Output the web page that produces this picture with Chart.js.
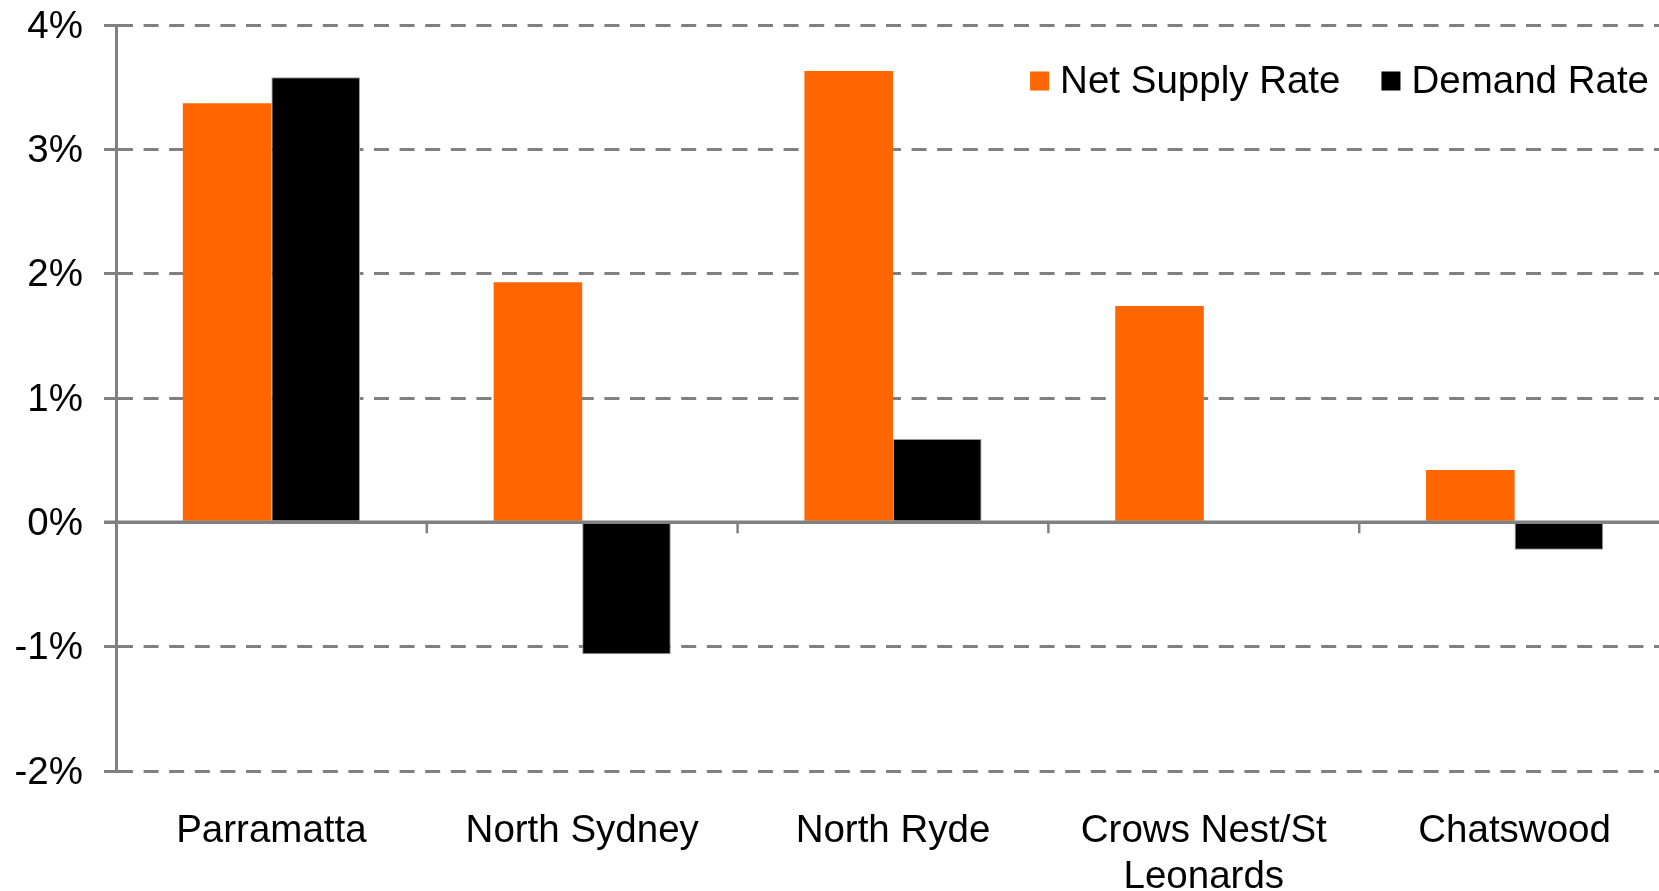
<!DOCTYPE html>
<html><head><meta charset="utf-8">
<script src="https://cdn.jsdelivr.net/npm/chart.js@4.4.0/dist/chart.umd.min.js"></script>
<style>
html,body{margin:0;padding:0;overflow:hidden;background:#fff;width:1659px;height:891px}
#wrap{position:absolute;left:0;top:0;width:1670px;height:891px}
</style>
</head><body><div id="wrap"><canvas id="c" width="1670" height="891"></canvas></div>
<script>
const categories = [['Parramatta'], ['North Sydney'], ['North Ryde'], ['Crows Nest/St', 'Leonards'], ['Chatswood']];
const seriesNames = ['Net Supply Rate', 'Demand Rate'];
const netSupplyRate = [3.37, 1.93, 3.63, 1.74, 0.42];
const demandRate = [3.58, -1.06, 0.67, 0, -0.22];
const yTickValues = [-2, -1, 0, 1, 2, 3, 4];
const yTickLabels = ['-2%', '-1%', '0%', '1%', '2%', '3%', '4%'];

const FONT = '"Liberation Sans", Arial, Helvetica, sans-serif';
const FSIZE = 38.5;
const GRAY = '#808080';
Chart.defaults.font.family = FONT;

const zeroLinePlugin = {
  id: 'zeroLine',
  afterDatasetsDraw(chart) {
    const {ctx, chartArea: ca, scales: {x, y}} = chart;
    const y0 = y.getPixelForValue(0);
    ctx.save();
    ctx.strokeStyle = GRAY;
    ctx.lineWidth = 3.5;
    ctx.beginPath();
    ctx.moveTo(ca.left - 12, y0);
    ctx.lineTo(ca.right, y0);
    ctx.stroke();
    ctx.lineWidth = 2.5;
    ctx.beginPath();
    for (let i = 1; i <= categories.length; i++) {
      const bx = i < categories.length
        ? (x.getPixelForValue(i - 1) + x.getPixelForValue(i)) / 2
        : ca.right;
      ctx.moveTo(bx, y0);
      ctx.lineTo(bx, y0 + 11);
    }
    ctx.stroke();
    ctx.restore();
  }
};

const legendPlugin = {
  id: 'customLegend',
  afterDraw(chart) {
    const {ctx, chartArea: ca} = chart;
    ctx.save();
    ctx.font = FSIZE + 'px ' + FONT;
    ctx.textBaseline = 'middle';
    ctx.textAlign = 'left';
    const items = chart.data.datasets.map(d => ({label: d.label, color: d.backgroundColor}));
    const box = 19, gapText = 11, gapItems = 41;
    const widths = items.map(it => box + gapText + ctx.measureText(it.label).width);
    const total = widths.reduce((a, b) => a + b, 0) + gapItems * (items.length - 1);
    let x = ca.right - 21 - total;
    const yc = ca.top + 56;
    items.forEach((it, i) => {
      ctx.fillStyle = it.color;
      ctx.fillRect(x, yc - box / 2, box, box);
      ctx.fillStyle = '#000';
      ctx.fillText(it.label, x + box + gapText, yc + 1);
      x += widths[i] + gapItems;
    });
    ctx.restore();
  }
};

new Chart(document.getElementById('c'), {
  type: 'bar',
  data: {
    labels: categories,
    datasets: [
      {label: seriesNames[0], data: netSupplyRate, backgroundColor: '#FF6600', borderWidth: 0,
       categoryPercentage: 0.57, barPercentage: 1.0},
      {label: seriesNames[1], data: demandRate, backgroundColor: '#000000', borderColor: '#9a9a9a', borderWidth: 1,
       categoryPercentage: 0.57, barPercentage: 1.0}
    ]
  },
  options: {
    responsive: false,
    animation: false,
    devicePixelRatio: 1,
    layout: {padding: {top: 25, left: 0, right: 0, bottom: 0}},
    plugins: {legend: {display: false}, tooltip: {enabled: false}},
    scales: {
      x: {
        grid: {display: false, drawTicks: false},
        border: {display: false},
        ticks: {
          color: '#000', font: {size: FSIZE, lineHeight: 1.2}, padding: 37,
          maxRotation: 0, minRotation: 0, autoSkip: false
        },
        afterFit(s) { s.height = 120; s.paddingLeft = 0; s.paddingRight = 0; }
      },
      y: {
        min: -2, max: 4,
        afterBuildTicks(s) { s.ticks = yTickValues.map(v => ({value: v})); },
        ticks: {
          color: '#000', font: {size: FSIZE, lineHeight: 1.2}, padding: 21, labelOffset: 2,
          callback: (v) => yTickLabels[yTickValues.indexOf(v)]
        },
        grid: {
          color: (c) => (c.tick && c.tick.value === 0) ? 'rgba(0,0,0,0)' : GRAY,
          lineWidth: 3, tickLength: 12, drawTicks: true
        },
        border: {display: true, color: GRAY, width: 3, dash: [15, 10.6]},
        afterFit(s) { s.width = 116; s.paddingTop = 0; s.paddingBottom = 0; }
      }
    }
  },
  plugins: [zeroLinePlugin, legendPlugin]
});
</script>
</body></html>
